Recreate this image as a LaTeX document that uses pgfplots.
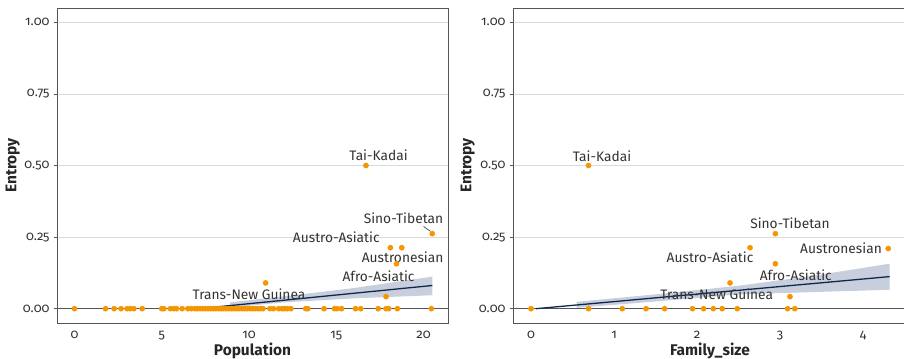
\documentclass[border=0pt]{standalone}
\usepackage{pgfplots}
\pgfplotsset{compat=1.18}
\usepackage{fontspec}
\setmainfont{Fira Sans}[Numbers=OldStyle]
\definecolor{ptorange}{RGB}{245,150,0}
\definecolor{linenavy}{RGB}{12,40,80}
\definecolor{bandc}{RGB}{72,92,135}
\definecolor{gridc}{RGB}{218,218,218}
\definecolor{framec}{RGB}{85,85,85}
\definecolor{tickc}{RGB}{50,50,50}
\pgfplotsset{
  myax/.style={
    scale only axis,
    height=315bp,
    ymin=-0.05, ymax=1.05,
    ytick={0,0.25,0.5,0.75,1},
    yticklabels={0.00,0.25,0.50,0.75,1.00},
    /pgf/number format/assume math mode=true,
    ymajorgrids,
    grid style={gridc, line width=0.8pt},
    axis line style={framec, line width=0.9pt},
    tick align=outside,
    ytick pos=left,
    major tick length=3bp,
    ytick style={framec, line width=0.8pt},
    xtick style={draw=none},
    tick label style={font=\fontsize{13}{14}\selectfont, text=tickc},
    yticklabel style={xshift=-1bp},
    xticklabel style={yshift=-2bp},
    every axis x label/.style={at={(axis description cs:0.5,0)}, anchor=center, yshift=-28bp,
      font=\bfseries\fontsize{15.5}{17}\selectfont, text=black!85},
    ylabel={Entropy},
    clip=true,
  },
  ylab/.style={every axis y label/.style={at={(axis description cs:#1,0.5)}, rotate=90, anchor=center,
      font=\bfseries\fontsize{15.5}{17}\selectfont, text=black!85}},
}
\tikzset{lab/.style={font=\fontsize{13.8}{15}\selectfont, text=black!80, inner sep=0pt}}
\begin{document}
\begin{tikzpicture}
\useasboundingbox (0,0) rectangle (904bp,359bp);
% ---------------- Left panel ----------------
\begin{axis}[myax, ylab=-0.113,
  at={(57bp,36bp)}, anchor=south west,
  width=391bp,
  xmin=-1.0, xmax=21.4,
  xtick={0,5,10,15,20},
  xlabel={Population},
]
\draw[framec, line width=0.9pt] (axis cs:-5,0) -- (axis cs:30,0);
\addplot[only marks, mark=*, mark size=2.6bp, ptorange, mark options={draw=ptorange, fill=ptorange}] coordinates {
(0,0)(1.78,0)(2.27,0)(2.67,0)(3.02,0)(3.2,0)(3.4,0)(3.88,0)
(5.0,0)(5.12,0)(5.5,0)(5.69,0)(5.85,0)(6.17,0)(6.5,0)(6.7,0)
(6.9,0)(7.05,0)(7.2,0)(7.35,0)(7.5,0)(7.65,0)(7.8,0)(7.95,0)(8.1,0)(8.25,0)
(8.4,0)(8.55,0)(8.7,0)(8.85,0)(9.0,0)(9.15,0)(9.3,0)(9.45,0)(9.6,0)(9.75,0)
(9.9,0)(10.05,0)(10.2,0)(10.35,0)(10.5,0)(10.65,0)(10.8,0)
(11.2,0)(11.4,0)(11.7,0)(11.9,0)(12.05,0)(12.2,0)(12.4,0)(13.25,0)(13.37,0)
(14.3,0)(14.9,0)(15.05,0)(15.3,0)(16.1,0)(16.4,0)(17.4,0)(17.85,0)(18.0,0)(18.5,0)(20.45,0)
(16.7,0.5)(20.5,0.262)(18.1,0.213)(18.75,0.213)(18.45,0.157)(10.95,0.09)(17.85,0.042)
};
\addplot[draw=none, fill=bandc, fill opacity=0.3] coordinates {
(8.9,0.022)(12,0.043)(16,0.072)(20.5,0.112)(20.5,0.047)(16,0.036)(12,0.022)(8.9,0.004)
} -- cycle;
\addplot[linenavy, line width=1.3pt] coordinates {(7.12,0.0)(20.5,0.081)};
\node[lab] at (axis cs:17.42,0.535) {Tai-Kadai};
\node[lab] at (axis cs:18.85,0.315) {Sino-Tibetan};
\node[lab] at (axis cs:15.0,0.248) {Austro-Asiatic};
\node[lab] at (axis cs:18.8,0.178) {Austronesian};
\node[lab] at (axis cs:17.42,0.112) {Afro-Asiatic};
\node[lab] at (axis cs:10.0,0.052) {Trans-New Guinea};
\draw[black!80, line width=0.6pt] (axis cs:20.0,0.287) -- (axis cs:20.4,0.27);
\end{axis}
% ---------------- Right panel ----------------
\begin{axis}[myax, ylab=-0.115,
  at={(513bp,36bp)}, anchor=south west,
  width=394bp,
  xmin=-0.217, xmax=4.53,
  xtick={0,1,2,3,4},
  xlabel={Family\_size},
]
\draw[framec, line width=0.9pt] (axis cs:-5,0) -- (axis cs:30,0);
\addplot[only marks, mark=*, mark size=2.6bp, ptorange, mark options={draw=ptorange, fill=ptorange}] coordinates {
(0,0)(0.693,0)(1.099,0)(1.386,0)(1.609,0)(1.946,0)(2.079,0)(2.197,0)(2.303,0)(2.485,0)(3.091,0)(3.178,0)
(0.693,0.5)(2.944,0.262)(2.639,0.213)(4.304,0.21)(2.944,0.157)(2.398,0.09)(3.12,0.042)
};
\addplot[draw=none, fill=bandc, fill opacity=0.3] coordinates {
(0.55,0.024)(1.5,0.05)(2.5,0.08)(3.4,0.115)(4.32,0.157)(4.32,0.066)(3.4,0.058)(2.5,0.05)(1.5,0.025)(0.55,0.003)
} -- cycle;
\addplot[linenavy, line width=1.3pt] coordinates {(0.06,0.0)(4.32,0.112)};
\node[lab] at (axis cs:0.855,0.532) {Tai-Kadai};
\node[lab] at (axis cs:3.12,0.298) {Sino-Tibetan};
\node[lab] at (axis cs:3.735,0.211) {Austronesian};
\node[lab] at (axis cs:2.157,0.179) {Austro-Asiatic};
\node[lab] at (axis cs:3.19,0.118) {Afro-Asiatic};
\node[lab] at (axis cs:2.237,0.051) {Trans-New Guinea};
\end{axis}
\end{tikzpicture}
\end{document}
